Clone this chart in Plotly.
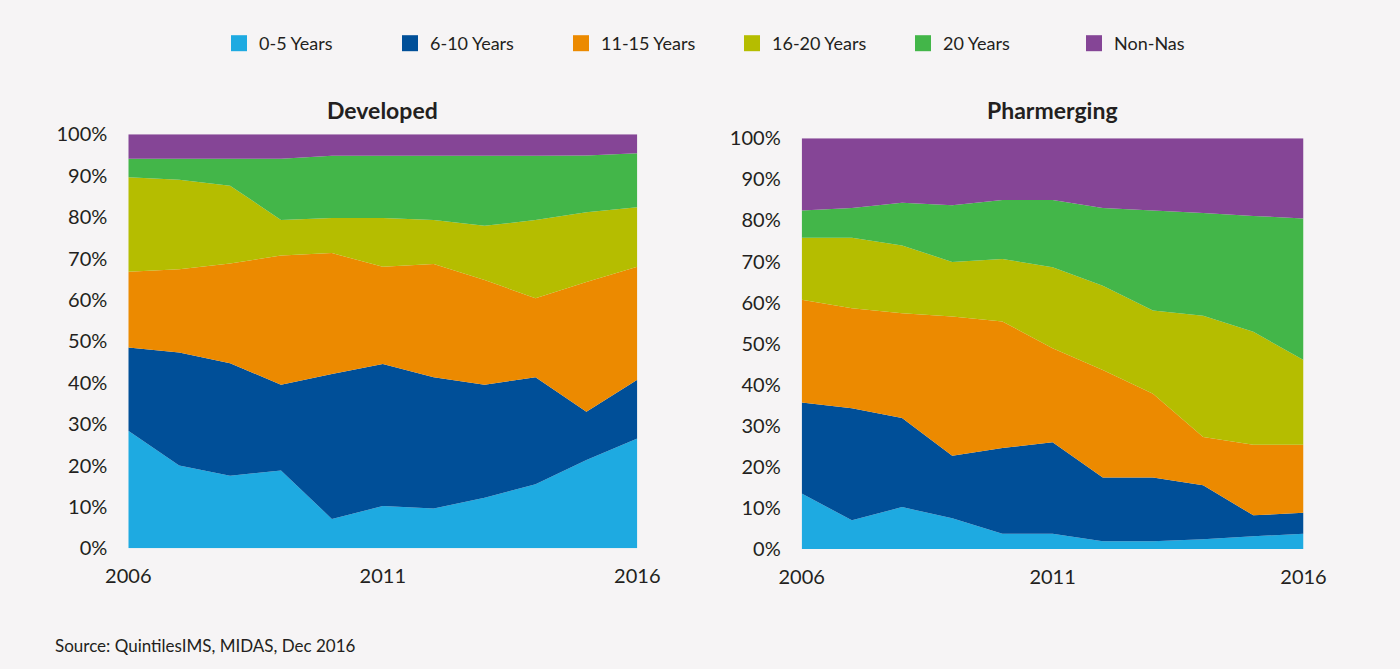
import plotly.graph_objects as go

years = list(range(2006, 2017))
series_names = ["0-5 Years", "6-10 Years", "11-15 Years", "16-20 Years", "20 Years", "Non-Nas"]
colors = ["#1EAAE1", "#004F98", "#EC8A00", "#B5BD00", "#43B649", "#854596"]

# Developed shares (%)
dev_0_5 = [28.4, 20.0, 17.5, 18.8, 7.1, 10.2, 9.6, 12.2, 15.5, 21.3, 26.5]
dev_6_10 = [20.1, 27.3, 27.2, 20.7, 35.0, 34.3, 31.7, 27.3, 25.8, 11.7, 14.2]
dev_11_15 = [18.3, 20.1, 24.1, 31.2, 29.2, 23.5, 27.4, 25.3, 19.1, 31.3, 27.3]
dev_16_20 = [22.8, 21.6, 18.8, 8.6, 8.5, 11.8, 10.6, 13.1, 18.9, 16.9, 14.4]
dev_20 = [4.5, 5.1, 6.5, 14.8, 15.0, 15.0, 15.5, 16.9, 15.5, 13.7, 13.0]
dev_nonnas = [5.9, 5.9, 5.9, 5.9, 5.2, 5.2, 5.2, 5.2, 5.2, 5.1, 4.6]

# Pharmerging shares (%)
ph_0_5 = [13.5, 7.0, 10.2, 7.5, 3.7, 3.7, 1.9, 1.9, 2.4, 3.1, 3.7]
ph_6_10 = [22.2, 27.3, 21.7, 15.2, 20.9, 22.3, 15.5, 15.5, 13.1, 5.1, 5.1]
ph_11_15 = [25.0, 24.3, 25.5, 33.9, 30.8, 22.9, 26.2, 20.4, 11.8, 17.2, 16.6]
ph_16_20 = [15.1, 17.2, 16.5, 13.3, 15.2, 19.7, 20.5, 20.3, 29.5, 27.5, 20.6]
ph_20 = [6.6, 7.2, 10.4, 13.8, 14.4, 16.4, 18.9, 24.3, 25.0, 28.2, 34.5]
ph_nonnas = [17.6, 17.0, 15.7, 16.3, 15.0, 15.0, 17.0, 17.6, 18.2, 18.9, 19.5]

x_ticks = [2006, 2011, 2016]
x_tick_labels = ["2006", "2011", "2016"]
y_ticks = list(range(0, 101, 10))
y_tick_labels = [f"{v}%" for v in y_ticks]

developed = [dev_0_5, dev_6_10, dev_11_15, dev_16_20, dev_20, dev_nonnas]
pharmerging = [ph_0_5, ph_6_10, ph_11_15, ph_16_20, ph_20, ph_nonnas]

BG = "#F6F4F5"
FONT = "Lato"
TXT = "#231F20"

W, H = 1400, 669
ML, MR, MT, MB = 128, 96, 134, 120
PW, PH = W - ML - MR, H - MT - MB


def px_x(p):
    return (p - ML) / PW


def px_y(p):
    return (H - MB - p) / PH


fig = go.Figure()
for name, col, vals in zip(series_names, colors, developed):
    fig.add_trace(go.Scatter(x=years, y=vals, name=name, stackgroup="dev", mode="none",
                             fillcolor=col, showlegend=False, xaxis="x", yaxis="y",
                             hoverinfo="x+y+name"))
for name, col, vals in zip(series_names, colors, pharmerging):
    fig.add_trace(go.Scatter(x=years, y=vals, name=name, stackgroup="ph", mode="none",
                             fillcolor=col, showlegend=False, xaxis="x2", yaxis="y2",
                             hoverinfo="x+y+name"))
# legend entries
for name, col in zip(series_names, colors):
    fig.add_trace(go.Scatter(x=[None], y=[None], name=name, mode="markers",
                             marker=dict(symbol="square", size=16, color=col),
                             xaxis="x", yaxis="y"))

axis_common = dict(showgrid=False, zeroline=False, showline=False, automargin=False,
                   tickfont=dict(family=FONT, size=20, color=TXT))

fig.update_layout(
    width=W, height=H,
    paper_bgcolor=BG, plot_bgcolor=BG,
    margin=dict(l=ML, r=MR, t=MT, b=MB),
    font=dict(family=FONT, color=TXT),
    showlegend=True,
    legend=dict(orientation="h", xref="container", yref="container",
                x=219 / W, y=1 - 25 / H, xanchor="left", yanchor="top",
                traceorder="normal",
                font=dict(family=FONT, size=18, color=TXT),
                entrywidth=126, entrywidthmode="pixels", bgcolor="rgba(0,0,0,0)",
                itemsizing="trace"),
    xaxis=dict(domain=[px_x(128.3), px_x(637.3)], range=[2006, 2016], tickvals=x_ticks,
               ticktext=x_tick_labels, ticklabelstandoff=14, **axis_common),
    yaxis=dict(domain=[px_y(548.3), px_y(134.3)], range=[0, 100], tickvals=y_ticks,
               ticktext=y_tick_labels, ticklabelstandoff=20, **axis_common),
    xaxis2=dict(domain=[px_x(801.7), px_x(1303.5)], range=[2006, 2016], tickvals=x_ticks,
                ticktext=x_tick_labels, ticklabelstandoff=14, anchor="y2", **axis_common),
    yaxis2=dict(domain=[max(0, px_y(549.3)), px_y(138.3)], range=[0, 100], tickvals=y_ticks,
                ticktext=y_tick_labels, ticklabelstandoff=20, anchor="x2", **axis_common),
    annotations=[
        dict(text="<b>Developed</b>", xref="x domain", yref="paper", x=0.5, y=px_y(110),
             xanchor="center", yanchor="middle", showarrow=False,
             font=dict(family=FONT, size=23, color=TXT)),
        dict(text="<b>Pharmerging</b>", xref="x2 domain", yref="paper", x=0.5, y=px_y(110),
             xanchor="center", yanchor="middle", showarrow=False,
             font=dict(family=FONT, size=23, color=TXT)),
        dict(text="Source: QuintilesIMS, MIDAS, Dec 2016", xref="paper", yref="paper",
             x=px_x(53), y=px_y(645), xanchor="left", yanchor="middle",
             showarrow=False, font=dict(family=FONT, size=17, color=TXT)),
    ],
)

fig.write_html("out.html", config={"displayModeBar": False},
               post_script="document.body.style.margin='0';")
